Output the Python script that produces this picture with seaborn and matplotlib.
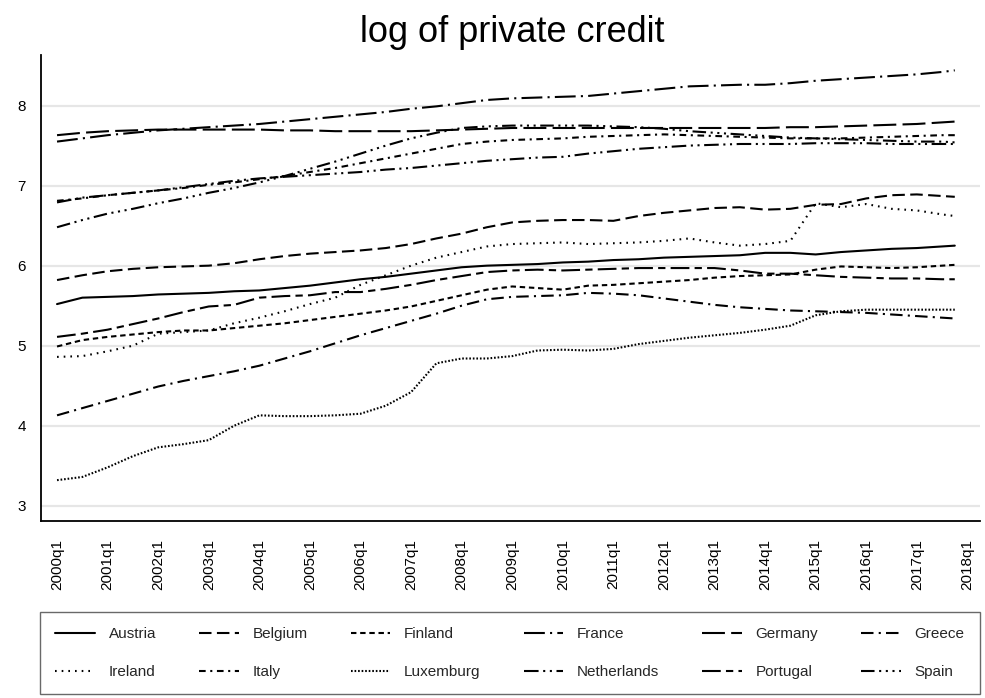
import matplotlib
matplotlib.use("Agg")
import matplotlib.pyplot as plt
from matplotlib.lines import Line2D
import pandas as pd
import seaborn as sns

# Observation quarters (0 = 2000q1), sampled every second quarter up to 2017q4
quarters = list(range(0, 71, 2)) + [71]

countries = ["Austria", "Belgium", "Finland", "France", "Germany", "Greece",
             "Ireland", "Italy", "Luxemburg", "Netherlands", "Portugal", "Spain"]

austria = [5.52, 5.60, 5.61, 5.62, 5.64, 5.65, 5.66, 5.68, 5.69, 5.72, 5.75, 5.79,
           5.83, 5.86, 5.90, 5.94, 5.98, 6.00, 6.01, 6.02, 6.04, 6.05, 6.07, 6.08,
           6.10, 6.11, 6.12, 6.13, 6.16, 6.16, 6.14, 6.17, 6.19, 6.21, 6.22, 6.24, 6.25]
belgium = [5.82, 5.88, 5.93, 5.96, 5.98, 5.99, 6.00, 6.03, 6.08, 6.12, 6.15, 6.17,
           6.19, 6.22, 6.27, 6.34, 6.40, 6.48, 6.54, 6.56, 6.57, 6.57, 6.56, 6.62,
           6.66, 6.69, 6.72, 6.73, 6.70, 6.71, 6.76, 6.77, 6.84, 6.88, 6.89, 6.87, 6.86]
finland = [4.99, 5.07, 5.11, 5.14, 5.17, 5.19, 5.19, 5.22, 5.25, 5.28, 5.32, 5.36,
           5.40, 5.44, 5.49, 5.56, 5.63, 5.70, 5.74, 5.72, 5.70, 5.75, 5.76, 5.78,
           5.80, 5.82, 5.85, 5.87, 5.88, 5.89, 5.95, 5.99, 5.98, 5.97, 5.98, 6.00, 6.01]
france = [7.55, 7.59, 7.63, 7.66, 7.69, 7.71, 7.73, 7.75, 7.77, 7.80, 7.83, 7.86,
          7.89, 7.92, 7.96, 7.99, 8.03, 8.07, 8.09, 8.10, 8.11, 8.12, 8.15, 8.18,
          8.21, 8.24, 8.25, 8.26, 8.26, 8.28, 8.31, 8.33, 8.35, 8.37, 8.39, 8.42, 8.44]
germany = [7.63, 7.66, 7.68, 7.69, 7.70, 7.70, 7.70, 7.70, 7.70, 7.69, 7.69, 7.68,
           7.68, 7.68, 7.68, 7.69, 7.70, 7.71, 7.72, 7.72, 7.72, 7.72, 7.72, 7.72,
           7.72, 7.72, 7.72, 7.72, 7.72, 7.73, 7.73, 7.74, 7.75, 7.76, 7.77, 7.79, 7.80]
greece = [4.13, 4.22, 4.31, 4.40, 4.49, 4.56, 4.62, 4.68, 4.75, 4.84, 4.93, 5.03,
          5.13, 5.22, 5.31, 5.40, 5.50, 5.58, 5.61, 5.62, 5.63, 5.66, 5.65, 5.63,
          5.59, 5.55, 5.51, 5.48, 5.46, 5.44, 5.43, 5.42, 5.41, 5.39, 5.37, 5.35, 5.34]
ireland = [4.86, 4.87, 4.93, 5.00, 5.15, 5.17, 5.19, 5.28, 5.35, 5.43, 5.52, 5.60,
           5.76, 5.88, 6.00, 6.10, 6.17, 6.24, 6.27, 6.28, 6.29, 6.27, 6.28, 6.29,
           6.31, 6.34, 6.29, 6.25, 6.27, 6.31, 6.78, 6.73, 6.77, 6.71, 6.69, 6.64, 6.62]
italy = [6.81, 6.84, 6.88, 6.91, 6.94, 6.97, 7.01, 7.04, 7.08, 7.12, 7.17, 7.22,
         7.28, 7.34, 7.40, 7.46, 7.52, 7.55, 7.57, 7.58, 7.59, 7.61, 7.62, 7.63,
         7.64, 7.63, 7.62, 7.61, 7.60, 7.59, 7.59, 7.59, 7.60, 7.61, 7.62, 7.63, 7.63]
luxemburg = [3.32, 3.36, 3.48, 3.62, 3.73, 3.77, 3.82, 4.00, 4.13, 4.12, 4.12, 4.13,
             4.15, 4.25, 4.42, 4.78, 4.84, 4.84, 4.87, 4.94, 4.95, 4.94, 4.96, 5.02,
             5.06, 5.10, 5.13, 5.16, 5.20, 5.25, 5.38, 5.43, 5.45, 5.45, 5.45, 5.45, 5.45]
netherlands = [6.79, 6.85, 6.88, 6.91, 6.94, 6.98, 7.02, 7.06, 7.09, 7.11, 7.13, 7.15,
               7.17, 7.20, 7.22, 7.25, 7.28, 7.31, 7.33, 7.35, 7.36, 7.40, 7.43, 7.46,
               7.48, 7.50, 7.51, 7.52, 7.52, 7.52, 7.53, 7.53, 7.53, 7.52, 7.52, 7.52, 7.52]
portugal = [5.11, 5.15, 5.20, 5.27, 5.34, 5.42, 5.49, 5.51, 5.60, 5.62, 5.63, 5.67,
            5.67, 5.71, 5.76, 5.82, 5.87, 5.92, 5.94, 5.95, 5.94, 5.95, 5.96, 5.97,
            5.97, 5.97, 5.97, 5.94, 5.90, 5.90, 5.88, 5.86, 5.85, 5.84, 5.84, 5.83, 5.83]
spain = [6.48, 6.57, 6.65, 6.71, 6.78, 6.84, 6.91, 6.97, 7.04, 7.12, 7.21, 7.30,
         7.40, 7.50, 7.59, 7.66, 7.72, 7.74, 7.75, 7.75, 7.75, 7.75, 7.74, 7.73,
         7.71, 7.68, 7.66, 7.64, 7.62, 7.60, 7.59, 7.58, 7.57, 7.56, 7.55, 7.55, 7.54]

series = [austria, belgium, finland, france, germany, greece,
          ireland, italy, luxemburg, netherlands, portugal, spain]

tick_quarters = list(range(0, 73, 4))
tick_labels = ["2000q1", "2001q1", "2002q1", "2003q1", "2004q1", "2005q1", "2006q1",
               "2007q1", "2008q1", "2009q1", "2010q1", "2011q1", "2012q1", "2013q1",
               "2014q1", "2015q1", "2016q1", "2017q1", "2018q1"]
y_ticks = [3, 4, 5, 6, 7, 8]

# Monochrome line patterns, one per country (dash units scale with line width)
dash_map = {
    "Austria": "",
    "Belgium": (6, 2.6),
    "Finland": (2.6, 1.8),
    "France": (10, 2.5, 1, 2.5),
    "Germany": (11, 3),
    "Greece": (6, 2.5, 1, 2.5),
    "Ireland": (0.8, 2.4),
    "Italy": (3.2, 2.2, 1, 2.2),
    "Luxemburg": (0.8, 0.9),
    "Netherlands": (7, 2.2, 1, 2.2, 1, 2.2),
    "Portugal": (9, 2.5, 3.5, 2.5),
    "Spain": (6.5, 2.2, 1, 2.2, 1, 2.2, 1, 2.2),
}

rows = []
for name, vals in zip(countries, series):
    for q, v in zip(quarters, vals):
        rows.append({"quarter": q, "value": v, "country": name})
df = pd.DataFrame(rows)

sns.set_style("white")
plt.rcParams["font.family"] = ["Liberation Sans", "DejaVu Sans"]

fig = plt.figure(figsize=(9.85, 6.98), dpi=100)
ax = fig.add_axes([0.0416, 0.2536, 0.9534, 0.6674])

LW = 1.5
sns.lineplot(data=df, x="quarter", y="value", hue="country", style="country",
             hue_order=countries, style_order=countries,
             palette={c: "black" for c in countries}, dashes=dash_map,
             linewidth=LW, legend=False, estimator=None, ax=ax)

ax.set_xlim(-1.27, 73.0)
ax.set_ylim(2.81, 8.63)
ax.set_xticks(tick_quarters)
ax.set_xticklabels(tick_labels, rotation=90, fontsize=11)
ax.set_yticks(y_ticks)
ax.set_yticklabels([str(v) for v in y_ticks], fontsize=11)
ax.set_xlabel("")
ax.set_ylabel("")

ax.yaxis.grid(True, color="#e6e6e6", linewidth=1.6)
ax.xaxis.grid(False)
ax.set_axisbelow(True)

for side in ("top", "right"):
    ax.spines[side].set_visible(False)
for side in ("left", "bottom"):
    ax.spines[side].set_color("black")
    ax.spines[side].set_linewidth(1.3)
ax.tick_params(axis="both", direction="out", length=7, width=1.1, color="black",
               labelcolor="black")
ax.tick_params(axis="x", pad=6)
ax.tick_params(axis="y", pad=4)

fig.text(0.520, 1 - 32 / 698, "log of private credit", ha="center", va="center",
         fontsize=26, color="black")

# Legend laid out row by row in six columns
def make_handle(name):
    d = dash_map[name]
    if d == "":
        return Line2D([], [], color="black", linewidth=LW, linestyle="-")
    return Line2D([], [], color="black", linewidth=LW, dashes=d)

order = [0, 6, 1, 7, 2, 8, 3, 9, 4, 10, 5, 11]
handles = [make_handle(countries[i]) for i in order]
labels = [countries[i] for i in order]
leg = fig.legend(handles, labels, ncol=6, loc="upper left",
                 bbox_to_anchor=(40 / 985, 1 - 612 / 698, 940 / 985, 0.0),
                 mode="expand", borderaxespad=0, fontsize=11, frameon=True,
                 fancybox=False, handlelength=2.6, handletextpad=0.9,
                 labelspacing=1.55, borderpad=1.0, columnspacing=1.0)
leg.get_frame().set_edgecolor("#444444")
leg.get_frame().set_linewidth(1.0)

fig.savefig("out.png", dpi=100, facecolor="white")
